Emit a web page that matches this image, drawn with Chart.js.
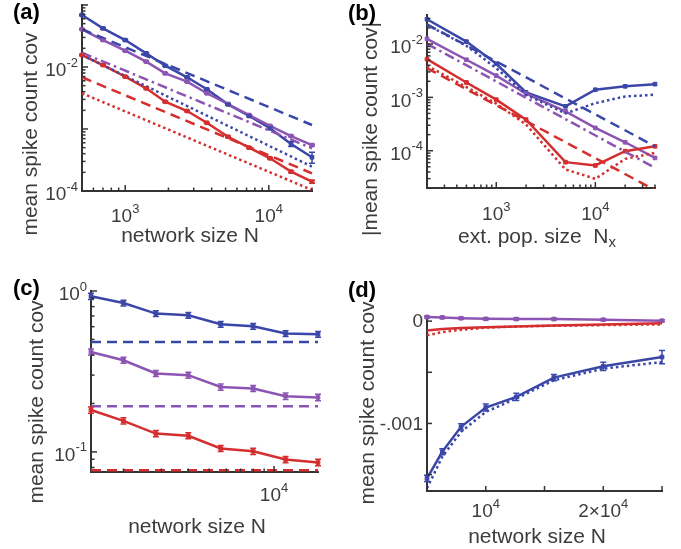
<!DOCTYPE html>
<html lang="en">
<head>
  <meta charset="UTF-8">
  <title>Mean spike count covariance</title>
  <script src="https://cdn.jsdelivr.net/npm/chart.js"></script>
  <style>
    body { margin: 0; background: #fff; }
    #wrap { position: relative; width: 681px; height: 549px; }
    canvas { position: absolute; }
  </style>
</head>
<body>
<div id="wrap">
  <canvas id="panelA" width="340" height="270" style="left:0;top:0"></canvas>
  <canvas id="panelB" width="341" height="270" style="left:340px;top:0"></canvas>
  <canvas id="panelC" width="340" height="279" style="left:0;top:270px"></canvas>
  <canvas id="panelD" width="341" height="279" style="left:340px;top:270px"></canvas>
</div>

<script>
  // (a) covariance vs network size N
  const aN = [500, 700, 1000, 1400, 1900, 2700, 3700, 5200, 7300, 10200, 14300, 20000];
  const aBlue = [0.069, 0.042, 0.0272, 0.0166, 0.0105, 0.00682, 0.00437, 0.0025, 0.00162, 0.00103, 0.000573, 0.00035];
  const aBlueErr = [0.002, 0.0012, 0.0008, 0.0005, 0.0003, 0.0002, 0.00013, 0.00008, 0.00006, 0.00005, 0.00005, 0.00007];
  const aPurple = [0.0406, 0.0272, 0.0183, 0.0122, 0.0079, 0.0058, 0.00377, 0.00253, 0.00168, 0.00112, 0.00077, 0.00055];
  const aPurpleErr = [0.001, 0.0006, 0.0004, 0.0003, 0.0002, 0.00012, 0.00008, 0.00006, 0.00004, 0.00003, 0.00002, 0.00002];
  const aRed = [0.0156, 0.01076, 0.00698, 0.00453, 0.00275, 0.00195, 0.00126, 0.00075, 0.000499, 0.000337, 0.000205, 0.000141];
  const aRedErr = [0.0004, 0.0003, 0.0002, 0.00012, 0.00008, 0.00005, 0.00003, 0.00002, 0.000015, 0.00001, 0.000008, 0.000008];
  const aEnds = [500, 20000];
  const aBlueDash = [0.0406, 0.00116];
  const aBlueDot = [0.0156, 0.000247];
  const aPurpleDashDot = [0.017, 0.000489];
  const aRedDash = [0.00683, 0.000193];
  const aRedDot = [0.00377, 0.000104];
  const aXTickVals = [1e3, 1e4], aXTickText = ['10^3', '10^4'];
  const aYTickVals = [1e-4, 1e-2], aYTickText = ['10^-4', '10^-2'];

  // (b) |covariance| vs external population size Nx
  const bNx = [200, 500, 1000, 2000, 5000, 10000, 20000, 40000];
  const bBlue = [0.0291, 0.0111, 0.00427, 0.00124, 0.000679, 0.00139, 0.00161, 0.00177];
  const bBlueDot = [0.0229, 0.00925, 0.00353, 0.00112, 0.0005, 0.00078, 0.00104, 0.00112];
  const bPurple = [0.0125, 0.00507, 0.00255, 0.00117, 0.000547, 0.000267, 0.000144, 0.0000733];
  const bRed = [0.0052, 0.0019, 0.000906, 0.000383, 0.000061, 0.0000529, 0.000098, 0.000121];
  const bRedDot = [0.00392, 0.00156, 0.000762, 0.000309, 0.0000445, 0.0000297, 0.0000703, 0.000091];
  const bEnds = [200, 40000];
  const bBlueDash = [0.0233, 0.000121];
  const bPurpleDashDot = [0.0101, 0.0000477];
  const bRedDash = [0.00353, 0.0000183];
  const bXTickVals = [1e3, 1e4], bXTickText = ['10^3', '10^4'];
  const bYTickVals = [1e-4, 1e-3, 1e-2], bYTickText = ['10^-4', '10^-3', '10^-2'];

  // (c) covariance vs N, larger scale
  const cN = [1414, 2000, 2828, 4000, 5657, 8000, 11314, 16000];
  const cBlue = [0.927, 0.842, 0.724, 0.706, 0.621, 0.604, 0.544, 0.538];
  const cBlueErr = [0.04, 0.035, 0.03, 0.03, 0.026, 0.025, 0.023, 0.023];
  const cPurple = [0.418, 0.371, 0.307, 0.300, 0.253, 0.248, 0.222, 0.218];
  const cPurpleErr = [0.018, 0.016, 0.013, 0.013, 0.011, 0.011, 0.01, 0.01];
  const cRed = [0.182, 0.156, 0.130, 0.126, 0.105, 0.101, 0.0897, 0.0859];
  const cRedErr = [0.008, 0.007, 0.006, 0.0055, 0.0045, 0.0045, 0.004, 0.004];
  const cEnds = [1414, 16000];
  const cBlueDash = [0.482, 0.482];
  const cPurpleDash = [0.192, 0.192];
  const cRedDash = [0.0769, 0.0769];
  const cXTickVals = [1e4], cXTickText = ['10^4'];
  const cYTickVals = [0.1, 1], cYTickText = ['10^-1', '10^0'];

  // (d) covariance vs N, linear axes
  const dN = [5000, 6300, 7900, 10000, 12600, 15800, 20000, 25000];
  const dBlue = [-0.001536, -0.001277, -0.001033, -0.000844, -0.000741, -0.000552, -0.000442, -0.000351];
  const dBlueErr = [0.00003, 0.00003, 0.00003, 0.000035, 0.000035, 0.00003, 0.00004, 0.000065];
  const dBlueDot = [-0.001633, -0.001326, -0.001082, -0.000887, -0.000756, -0.000578, -0.000464, -0.0004];
  const dPurple = [0.00004, 0.000036, 0.000028, 0.000022, 0.00002, 0.00002, 0.000014, 0.000004];
  const dPurpleErr = [0.00001, 0.00001, 0.00001, 0.00001, 0.00001, 0.00001, 0.00001, 0.00001];
  const dRed = [-0.000091, -0.000078, -0.000068, -0.000059, -0.000052, -0.000042, -0.000032, -0.00002];
  const dRedDot = [-0.000139, -0.000107, -0.000084, -0.000064, -0.000052, -0.000045, -0.000039, -0.000032];
  const dXTickVals = [1e4, 2e4], dXTickText = ['10^4', '2\u00d710^4'];
  const dYTickVals = [0, -0.001], dYTickText = ['0', '-.001'];

  const BLUE = '#3b47a8', PURPLE = '#8d55b3', RED = '#d42e2e';
  const AX = '#333333', TXT = '#3c3c3c';
  const FONT = '"Liberation Sans", Arial, Helvetica, sans-serif';
  const DASH = [10, 6], DOT = [2.5, 3], DASHDOT = [10, 4, 2.5, 4];

  function pts(xs, ys) {
    return xs.map((x, i) => ({ x: x, y: ys[i] }));
  }

  function series(xs, ys, color, dash, marks, errs) {
    return {
      data: pts(xs, ys),
      errs: errs || null,
      borderColor: color,
      backgroundColor: color,
      borderWidth: 2.5,
      borderDash: dash || [],
      pointStyle: 'rect',
      pointRadius: marks ? 2.6 : 0,
      pointBorderWidth: 1,
      tension: 0,
      clip: marks ? 8 : 1
    };
  }

  function axis(type, min, max) {
    return {
      type: type, min: min, max: max,
      ticks: { display: false },
      grid: { display: true, drawOnChartArea: false, drawTicks: false },
      border: { display: true, color: AX, width: 2 },
      afterFit: s => { if (s.isHorizontal()) s.height = 0; else s.width = 0; }
    };
  }

  // tick marks drawn inward, MATLAB style
  function tickMarks(scale, step) {
    const out = [];
    const min = scale.min, max = scale.max;
    if (step) {
      for (let v = Math.ceil(min / step - 1e-9) * step; v <= max + 1e-12; v += step) out.push({ v: v, len: 5 });
    } else {
      for (let e = Math.floor(Math.log10(min)); e <= Math.ceil(Math.log10(max)); e++) {
        for (let k = 1; k < 10; k++) {
          const v = k * Math.pow(10, e);
          if (v >= min * 0.999 && v <= max * 1.001) out.push({ v: v, len: k === 1 ? 6 : 3.5 });
        }
      }
    }
    return out;
  }

  // "10^-2" -> base plus raised exponent; y is the middle of the base text
  function expText(ctx, text, x, y, align) {
    const parts = text.split('^');
    const base = parts[0], exp = parts[1] || '';
    ctx.font = '19px ' + FONT;
    const wb = ctx.measureText(base).width;
    ctx.font = '13px ' + FONT;
    const we = ctx.measureText(exp).width;
    const x0 = align === 'center' ? x - (wb + we) / 2 : x - (wb + we);
    ctx.textAlign = 'left';
    ctx.textBaseline = 'middle';
    ctx.font = '19px ' + FONT;
    ctx.fillText(base, x0, y);
    if (exp) {
      ctx.font = '13px ' + FONT;
      ctx.fillText(exp, x0 + wb, y - 8);
    }
  }

  function makeDecor(d) {
    return {
      id: 'decor',
      afterDatasetsDraw(chart) {
        // error bars with caps on the simulated series
        const ctx = chart.ctx, sy = chart.scales.y;
        ctx.save();
        chart.data.datasets.forEach((ds, i) => {
          if (!ds.errs) return;
          ctx.strokeStyle = ds.borderColor;
          ctx.lineWidth = 1.5;
          chart.getDatasetMeta(i).data.forEach((pt, j) => {
            const v = ds.data[j].y, e = ds.errs[j];
            const y1 = sy.getPixelForValue(v - e), y2 = sy.getPixelForValue(v + e);
            ctx.beginPath();
            ctx.moveTo(pt.x, y1); ctx.lineTo(pt.x, y2);
            ctx.moveTo(pt.x - 3, y1); ctx.lineTo(pt.x + 3, y1);
            ctx.moveTo(pt.x - 3, y2); ctx.lineTo(pt.x + 3, y2);
            ctx.stroke();
          });
        });
        ctx.restore();
      },
      afterDraw(chart) {
        const ctx = chart.ctx, area = chart.chartArea;
        const sx = chart.scales.x, sy = chart.scales.y;
        ctx.save();
        ctx.strokeStyle = AX;
        ctx.lineWidth = 1.5;
        tickMarks(sx, d.xStep).forEach(t => {
          const px = sx.getPixelForValue(t.v);
          ctx.beginPath(); ctx.moveTo(px, area.bottom); ctx.lineTo(px, area.bottom - t.len); ctx.stroke();
        });
        tickMarks(sy, d.yStep).forEach(t => {
          const py = sy.getPixelForValue(t.v);
          ctx.beginPath(); ctx.moveTo(area.left, py); ctx.lineTo(area.left + t.len, py); ctx.stroke();
        });

        ctx.fillStyle = TXT;
        d.xVals.forEach((v, i) => expText(ctx, d.xText[i], sx.getPixelForValue(v), area.bottom + d.xGap, 'center'));
        d.yVals.forEach((v, i) => expText(ctx, d.yText[i], area.left - d.yGap, sy.getPixelForValue(v) + d.yShift, 'right'));

        // axis titles
        ctx.font = '21px ' + FONT;
        ctx.textBaseline = 'middle';
        ctx.textAlign = 'left';
        const w1 = ctx.measureText(d.xTitle).width;
        ctx.font = '15px ' + FONT;
        const w2 = d.xSub ? ctx.measureText(d.xSub).width : 0;
        const x0 = d.xTitlePos[0] - (w1 + w2) / 2;
        ctx.font = '21px ' + FONT;
        ctx.fillText(d.xTitle, x0, d.xTitlePos[1]);
        if (d.xSub) {
          ctx.font = '15px ' + FONT;
          ctx.fillText(d.xSub, x0 + w1, d.xTitlePos[1] + 6);
        }

        ctx.save();
        ctx.translate(d.yTitlePos[0], d.yTitlePos[1]);
        ctx.rotate(-Math.PI / 2);
        ctx.textAlign = 'center';
        ctx.font = '21px ' + FONT;
        ctx.fillText(d.yTitle, 0, 0);
        ctx.restore();

        // panel letter
        ctx.fillStyle = '#000';
        ctx.font = 'bold 22px ' + FONT;
        ctx.textAlign = 'left';
        ctx.textBaseline = 'alphabetic';
        ctx.fillText(d.letter, d.letterPos[0], d.letterPos[1]);
        ctx.restore();
      }
    };
  }

  function makePanel(id, cfg) {
    return new Chart(document.getElementById(id), {
      type: 'line',
      data: { datasets: cfg.datasets },
      options: {
        responsive: false,
        animation: false,
        devicePixelRatio: 1,
        layout: { padding: cfg.pad },
        plugins: { legend: { display: false }, tooltip: { enabled: false } },
        scales: {
          x: axis(cfg.xType, cfg.xMin, cfg.xMax),
          y: axis(cfg.yType, cfg.yMin, cfg.yMax)
        }
      },
      plugins: [makeDecor(cfg.decor)]
    });
  }

  makePanel('panelA', {
    pad: { left: 82, top: 5, right: 28, bottom: 79 },
    xType: 'logarithmic', xMin: 500, xMax: 20000,
    yType: 'logarithmic', yMin: 1e-4, yMax: 0.1,
    datasets: [
      series(aEnds, aRedDot, RED, DOT),
      series(aEnds, aRedDash, RED, DASH),
      series(aEnds, aBlueDot, BLUE, DOT),
      series(aEnds, aPurpleDashDot, PURPLE, DASHDOT),
      series(aEnds, aBlueDash, BLUE, DASH),
      series(aN, aRed, RED, null, true, aRedErr),
      series(aN, aPurple, PURPLE, null, true, aPurpleErr),
      series(aN, aBlue, BLUE, null, true, aBlueErr)
    ],
    decor: {
      letter: '(a)', letterPos: [13, 19],
      xTitle: 'network size N', xTitlePos: [190, 236],
      yTitle: 'mean spike count cov', yTitlePos: [31, 134],
      xVals: aXTickVals, xText: aXTickText, xGap: 26,
      yVals: aYTickVals, yText: aYTickText, yGap: 4, yShift: 4
    }
  });

  makePanel('panelB', {
    pad: { left: 87, top: 15, right: 26, bottom: 82 },
    xType: 'logarithmic', xMin: 200, xMax: 40000,
    yType: 'logarithmic', yMin: 2e-5, yMax: 0.035,
    datasets: [
      series(bEnds, bRedDash, RED, DASH),
      series(bNx, bRedDot, RED, DOT),
      series(bEnds, bPurpleDashDot, PURPLE, DASHDOT),
      series(bEnds, bBlueDash, BLUE, DASH),
      series(bNx, bBlueDot, BLUE, DOT),
      series(bNx, bRed, RED, null, true),
      series(bNx, bPurple, PURPLE, null, true),
      series(bNx, bBlue, BLUE, null, true)
    ],
    decor: {
      letter: '(b)', letterPos: [8, 20],
      xTitle: 'ext. pop. size  N', xSub: 'x', xTitlePos: [197, 237],
      yTitle: '|mean spike count cov|', yTitlePos: [31, 129],
      xVals: bXTickVals, xText: bXTickText, xGap: 27,
      yVals: bYTickVals, yText: bYTickText, yGap: 4, yShift: 4
    }
  });

  makePanel('panelC', {
    pad: { left: 91, top: 21, right: 22, bottom: 77 },
    xType: 'logarithmic', xMin: 1414, xMax: 16000,
    yType: 'logarithmic', yMin: 0.075, yMax: 1,
    datasets: [
      series(cEnds, cRedDash, RED, DASH),
      series(cEnds, cPurpleDash, PURPLE, DASH),
      series(cEnds, cBlueDash, BLUE, DASH),
      series(cN, cRed, RED, null, true, cRedErr),
      series(cN, cPurple, PURPLE, null, true, cPurpleErr),
      series(cN, cBlue, BLUE, null, true, cBlueErr)
    ],
    decor: {
      letter: '(c)', letterPos: [13, 25],
      xTitle: 'network size N', xTitlePos: [197, 257],
      yTitle: 'mean spike count cov', yTitlePos: [37, 132],
      xVals: cXTickVals, xText: cXTickText, xGap: 24,
      yVals: cYTickVals, yText: cYTickText, yGap: 4, yShift: 4
    }
  });

  makePanel('panelD', {
    pad: { left: 87, top: 46, right: 19, bottom: 58 },
    xType: 'linear', xMin: 5000, xMax: 25000,
    yType: 'linear', yMin: -0.00166, yMax: 0.00005,
    datasets: [
      series(dN, dRedDot, RED, DOT),
      series(dN, dBlueDot, BLUE, DOT),
      series(dN, dRed, RED, null, false),
      series(dN, dPurple, PURPLE, null, true, dPurpleErr),
      series(dN, dBlue, BLUE, null, true, dBlueErr)
    ],
    decor: {
      letter: '(d)', letterPos: [8, 27],
      xStep: 5000, yStep: 0.0005,
      xTitle: 'network size N', xTitlePos: [197, 267],
      yTitle: 'mean spike count cov', yTitlePos: [28, 133],
      xVals: dXTickVals, xText: dXTickText, xGap: 21,
      yVals: dYTickVals, yText: dYTickText, yGap: 4, yShift: 1
    }
  });
</script>
</body>
</html>
